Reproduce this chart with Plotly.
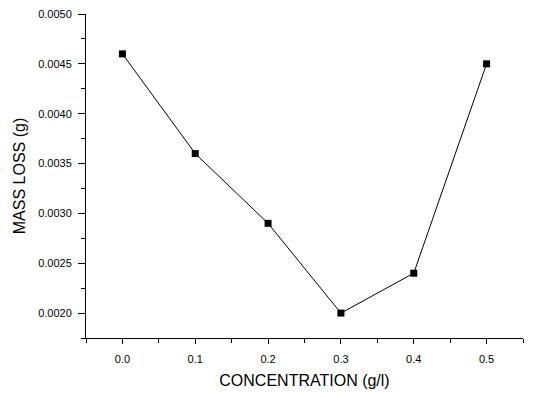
import plotly.graph_objects as go

concentration = [0.0, 0.1, 0.2, 0.3, 0.4, 0.5]
mass_loss = [0.0046, 0.0036, 0.0029, 0.0020, 0.0024, 0.0045]
x_ticks = [0.0, 0.1, 0.2, 0.3, 0.4, 0.5]
x_tick_labels = ["0.0", "0.1", "0.2", "0.3", "0.4", "0.5"]
y_ticks = [0.0020, 0.0025, 0.0030, 0.0035, 0.0040, 0.0045, 0.0050]
y_tick_labels = ["0.0020", "0.0025", "0.0030", "0.0035", "0.0040", "0.0045", "0.0050"]

fig = go.Figure(go.Scatter(
    x=concentration, y=mass_loss, mode="lines+markers",
    line=dict(color="black", width=1),
    marker=dict(symbol="square", size=7, color="black"),
))

font = "Liberation Sans, Arial, sans-serif"
fig.update_layout(
    width=533, height=397,
    margin=dict(l=86, r=10, t=14, b=59),
    paper_bgcolor="white", plot_bgcolor="white",
    showlegend=False,
    font=dict(family=font, color="black"),
    xaxis=dict(
        range=[-0.05, 0.55], tickmode="array", tickvals=x_ticks, ticktext=x_tick_labels,
        showgrid=False, zeroline=False, showline=True, linecolor="black", linewidth=1,
        ticks="outside", ticklen=5, tickwidth=1, tickcolor="black", ticklabelstandoff=6,
        tickfont=dict(size=11, family=font), automargin=False,
        minor=dict(dtick=0.05, tick0=-0.05, ticks="outside", ticklen=4, tickcolor="black", showgrid=False),
        title=dict(text="CONCENTRATION (g/l)", font=dict(size=16, family=font), standoff=10),
    ),
    yaxis=dict(
        range=[0.00175, 0.0050], tickmode="array", tickvals=y_ticks, ticktext=y_tick_labels,
        showgrid=False, zeroline=False, showline=True, linecolor="black", linewidth=1,
        ticks="outside", ticklen=7, tickwidth=1, tickcolor="black", ticklabelstandoff=4,
        tickfont=dict(size=11, family=font), automargin=False,
        minor=dict(dtick=0.00025, tick0=0.00175, ticks="outside", ticklen=4, tickcolor="black", showgrid=False),
        title=dict(text="MASS LOSS (g)", font=dict(size=16, family=font), standoff=8),
    ),
)

fig.write_html("out.html", config={"displayModeBar": False},
               post_script="document.body.style.margin='0';")
